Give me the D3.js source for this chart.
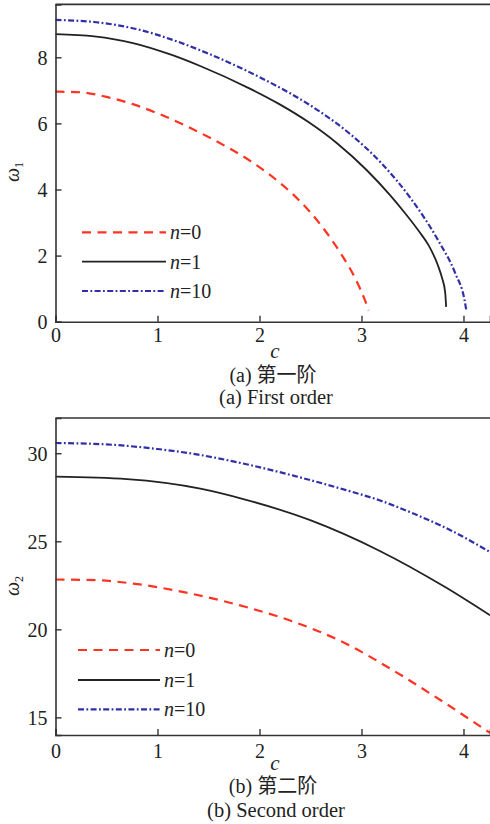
<!DOCTYPE html>
<html><head><meta charset="utf-8">
<script src="https://cdn.jsdelivr.net/npm/d3@7"></script>
<style>
html,body{margin:0;padding:0;background:#fff;}
svg{display:block;}
text{font-family:"Liberation Serif","Times New Roman","Noto Sans CJK SC",serif;fill:#222;}
</style></head>
<body>
<svg id="chart" width="490" height="824"></svg>
<script>
// ---------- data ----------
const seriesNames = ["n=0", "n=1", "n=10"];
const xTicks = [0, 1, 2, 3, 4];
const yTicksTop = [0, 2, 4, 6, 8];
const yTicksBottom = [15, 20, 25, 30];

// (a) first order
const cA0 = [0, 0.25, 0.5, 0.75, 1.02, 1.51, 1.94, 2.2, 2.38, 2.6, 2.8, 2.95, 3.03, 3.07];
const wA0 = [6.96, 6.94, 6.80, 6.59, 6.28, 5.57, 4.80, 4.20, 3.70, 2.93, 2.05, 1.24, 0.68, 0.34];
const cA1 = [0, 0.38, 0.76, 1.14, 1.43, 1.90, 2.19, 2.48, 2.76, 3.05, 3.28, 3.42, 3.56, 3.66, 3.75, 3.79, 3.82, 3.83];
const wA1 = [8.70, 8.63, 8.43, 8.07, 7.72, 7.06, 6.59, 6.04, 5.40, 4.59, 3.83, 3.31, 2.75, 2.30, 1.70, 1.32, 0.90, 0.45];
const cA10 = [0, 0.4, 0.8, 1.2, 1.5, 2.0, 2.3, 2.6, 2.9, 3.2, 3.49, 3.75, 3.92, 4.01, 4.03];
const wA10 = [9.13, 9.06, 8.85, 8.47, 8.11, 7.40, 6.91, 6.34, 5.65, 4.78, 3.70, 2.47, 1.46, 0.66, 0.30];

// (b) second order
const cB0 = [0, 0.4, 0.76, 1.3, 1.86, 2.35, 2.84, 3.33, 3.82, 4.26];
const wB0 = [22.83, 22.79, 22.60, 22.06, 21.28, 20.40, 19.21, 17.60, 15.81, 14.12];
const cB1 = [0, 0.7, 1.42, 1.86, 2.51, 3.17, 3.82, 4.26];
const wB1 = [28.67, 28.53, 27.99, 27.37, 26.17, 24.48, 22.40, 20.80];
const cB10 = [0, 0.5, 1.0, 1.4, 1.86, 2.35, 2.84, 3.2, 3.49, 3.9, 4.26];
const wB10 = [30.58, 30.50, 30.24, 29.92, 29.39, 28.70, 27.92, 27.28, 26.62, 25.55, 24.39];

// ---------- styles ----------
const styles = [
  {color:"#ff3322", width:2.2, dash:"9,6.5"},
  {color:"#222222", width:1.8, dash:null},
  {color:"#2f2fa8", width:2.2, dash:"6,2.4,1.8,2.4"}
];

const svg = d3.select("#chart");
const zip = (cs, ws) => cs.map((c,i)=>({c, w:ws[i]}));

function panel(opt){
  const x = d3.scaleLinear().domain([0, 4.26]).range([55.5, 490]);
  const y = d3.scaleLinear().domain(opt.yDomain).range(opt.yRange);
  const g = svg.append("g");
  const line = d3.line().x(d=>x(d.c)).y(d=>y(d.w)).curve(d3.curveMonotoneX);

  opt.series.forEach((s,i)=>{
    g.append("path").datum(s)
      .attr("d", line)
      .attr("fill","none")
      .attr("stroke", styles[i].color)
      .attr("stroke-width", styles[i].width)
      .attr("stroke-dasharray", styles[i].dash);
  });

  // axes
  const xa = g.append("g").attr("transform",`translate(0,${opt.yRange[0]})`)
    .call(d3.axisBottom(x).tickValues(xTicks).tickSize(-6).tickFormat(d3.format("d")));
  xa.selectAll("text").attr("y", opt.xLabOff).attr("dy","0.71em").style("font-size","20px");
  const ya = g.append("g").attr("transform",`translate(55.5,0)`)
    .call(d3.axisLeft(y).tickValues(opt.yTicks).tickSize(-6).tickFormat(d3.format("d")));
  ya.selectAll("text").attr("x", -8).attr("dy","0.34em").style("font-size","20px");
  [xa, ya].forEach(a=>{
    a.select(".domain").attr("stroke","#333").attr("stroke-width",1.6);
    a.selectAll(".tick line").attr("stroke","#333").attr("stroke-width",1.4);
    a.selectAll("text").attr("fill","#222").style("font-family",'"Liberation Serif",serif');
  });
  // top frame
  g.append("line").attr("x1",55.5).attr("x2",490)
    .attr("y1",opt.yRange[1]).attr("y2",opt.yRange[1])
    .attr("stroke","#333").attr("stroke-width",1.6);

  // y label
  const yl = g.append("text")
    .attr("transform",`translate(${opt.ylab[0]},${opt.ylab[1]}) rotate(-90)`)
    .attr("text-anchor","middle").style("font-size","20px");
  yl.append("tspan").style("font-style","italic").text("ω");
  yl.append("tspan").attr("dy", 4).style("font-size","12px").text(opt.sub);

  // legend
  opt.legendY.forEach((ly,i)=>{
    g.append("line").attr("x1",opt.legX[0]).attr("x2",opt.legX[1])
      .attr("y1",ly).attr("y2",ly)
      .attr("stroke",styles[i].color).attr("stroke-width",styles[i].width)
      .attr("stroke-dasharray",styles[i].dash);
    const t = g.append("text").attr("x",opt.legX[1]+4).attr("y",ly+7).style("font-size","20px");
    const parts = seriesNames[i].split("=");
    t.append("tspan").style("font-style","italic").text(parts[0]);
    t.append("tspan").text("=" + parts[1]);
  });

  // x label & captions
  g.append("text").attr("x",275).attr("y",opt.capY[0]).attr("text-anchor","middle")
    .style("font-size","21px").style("font-style","italic").text("c");
  g.append("text").attr("x",273).attr("y",opt.capY[1]).attr("text-anchor","middle")
    .style("font-size","20px").text(opt.cap1);
  g.append("text").attr("x",276).attr("y",opt.capY[2]).attr("text-anchor","middle")
    .style("font-size","20.5px").text(opt.cap2);
}

panel({
  yDomain:[0, 9.6], yRange:[321.7, 4.4], yTicks:yTicksTop, xLabOff:6.5,
  series:[zip(cA0,wA0), zip(cA1,wA1), zip(cA10,wA10)],
  ylab:[19,172], sub:"1",
  legendY:[232.3, 261.7, 291], legX:[82,166],
  capY:[357.5, 381.5, 403.5], cap1:"(a) 第一阶", cap2:"(a) First order"
});
panel({
  yDomain:[14, 32], yRange:[735, 418], yTicks:yTicksBottom, xLabOff:8.5,
  series:[zip(cB0,wB0), zip(cB1,wB1), zip(cB10,wB10)],
  ylab:[19,586], sub:"2",
  legendY:[650, 680, 709.3], legX:[78,160],
  capY:[769.5, 793, 817], cap1:"(b) 第二阶", cap2:"(b) Second order"
});
</script>
</body></html>
